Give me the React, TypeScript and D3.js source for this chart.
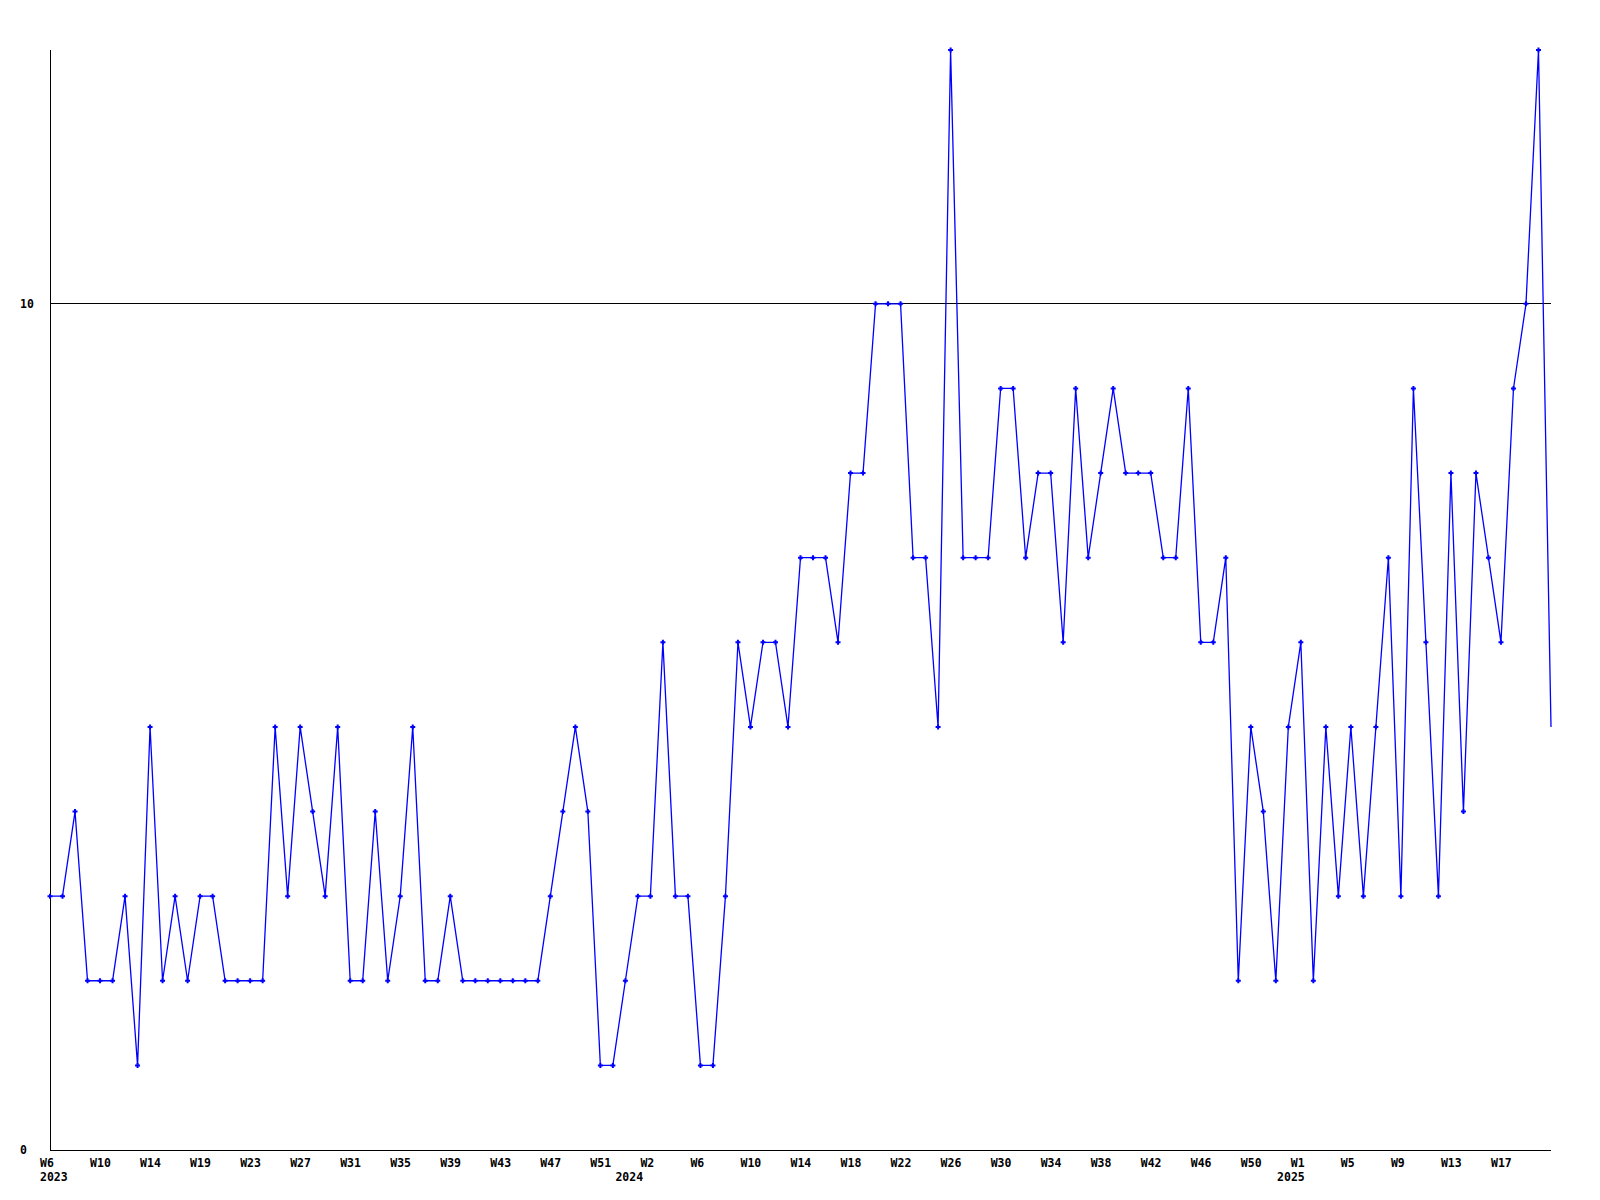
import React from "react";
import * as d3 from "d3";

// Weekly values, starting 2023 W6
const values: number[] = [
  3, 3, 4, 2, 2, 2, 3, 1, 5, 2,
  3, 2, 3, 3, 2, 2, 2, 2, 5, 3,
  5, 4, 3, 5, 2, 2, 4, 2, 3, 5,
  2, 2, 3, 2, 2, 2, 2, 2, 2, 2,
  3, 4, 5, 4, 1, 1, 2, 3, 3, 6,
  3, 3, 1, 1, 3, 6, 5, 6, 6, 5,
  7, 7, 7, 6, 8, 8, 10, 10, 10, 7,
  7, 5, 13, 7, 7, 7, 9, 9, 7, 8,
  8, 6, 9, 7, 8, 9, 8, 8, 8, 7,
  7, 9, 6, 6, 7, 2, 5, 4, 2, 5,
  6, 2, 5, 3, 5, 3, 5, 7, 3, 9,
  6, 3, 8, 4, 8, 7, 6, 9, 10, 13,
  5,
];

const weekLabels: string[] = [
  "W6", "W10", "W14", "W19", "W23", "W27", "W31", "W35", "W39", "W43",
  "W47", "W51", "W2", "W6", "W10", "W14", "W18", "W22", "W26", "W30",
  "W34", "W38", "W42", "W46", "W50", "W1", "W5", "W9", "W13", "W17",
];
const weekLabelStep = 4;

const yearLabels: string[] = ["2023", "2024", "2025"];
const yearPositions: number[] = [0, 46, 98.9];

const yTicks: number[] = [0, 10];
const yMax = 13;

const W = 1600;
const H = 1200;
const left = 50;
const right = 1551;
const top = 50;
const bottom = 1150;
const FONT = "'DejaVu Sans Mono', 'Liberation Mono', monospace";

export default function App() {
  const x = d3.scaleLinear().domain([0, values.length - 1]).range([left, right]);
  const y = d3.scaleLinear().domain([0, yMax]).range([bottom, top]);
  const line = d3
    .line<number>()
    .x((_, i) => x(i))
    .y((d) => y(d));

  return (
    <svg
      width={W}
      height={H}
      style={{ position: "absolute", left: 0, top: 0, background: "#fff" }}
    >
      <rect x={0} y={0} width={W} height={H} fill="#fff" />
      {/* grid lines */}
      {yTicks
        .filter((t) => t > 0)
        .map((t) => (
          <line
            key={"g" + t}
            x1={left}
            x2={right}
            y1={Math.floor(y(t)) + 0.5}
            y2={Math.floor(y(t)) + 0.5}
            stroke="#000"
            strokeWidth={1}
            shapeRendering="crispEdges"
          />
        ))}
      {/* axes */}
      <line x1={left + 0.5} x2={left + 0.5} y1={top} y2={bottom + 1} stroke="#000" strokeWidth={1} shapeRendering="crispEdges" />
      <line x1={left} x2={right} y1={bottom + 0.5} y2={bottom + 0.5} stroke="#000" strokeWidth={1} shapeRendering="crispEdges" />
      {/* y labels */}
      {yTicks.map((t) => (
        <text
          key={"y" + t}
          x={20}
          y={y(t) + 4}
          fontFamily={FONT}
          fontWeight="bold"
          fontSize={11.5}
          fill="#000"
        >
          {t}
        </text>
      ))}
      {/* x labels */}
      {weekLabels.map((lab, k) => (
        <text
          key={"x" + k}
          x={x(k * weekLabelStep) - 10}
          y={1167}
          fontFamily={FONT}
          fontWeight="bold"
          fontSize={11.5}
          fill="#000"
        >
          {lab}
        </text>
      ))}
      {yearLabels.map((lab, k) => (
        <text
          key={"yr" + k}
          x={x(yearPositions[k]) - 10}
          y={1181}
          fontFamily={FONT}
          fontWeight="bold"
          fontSize={11.5}
          fill="#000"
        >
          {lab}
        </text>
      ))}
      {/* series */}
      <path d={line(values) || ""} fill="none" stroke="#0000ff" strokeWidth={1.3} />
      {values.slice(0, values.length - 1).map((v, i) => {
        const cx = x(i);
        const cy = y(v);
        return (
          <path
            key={"m" + i}
            d={`M${cx - 2.5},${cy}H${cx + 2.5}M${cx},${cy - 2.5}V${cy + 2.5}`}
            stroke="#0000ff"
            strokeWidth={2}
            fill="none"
          />
        );
      })}
    </svg>
  );
}
